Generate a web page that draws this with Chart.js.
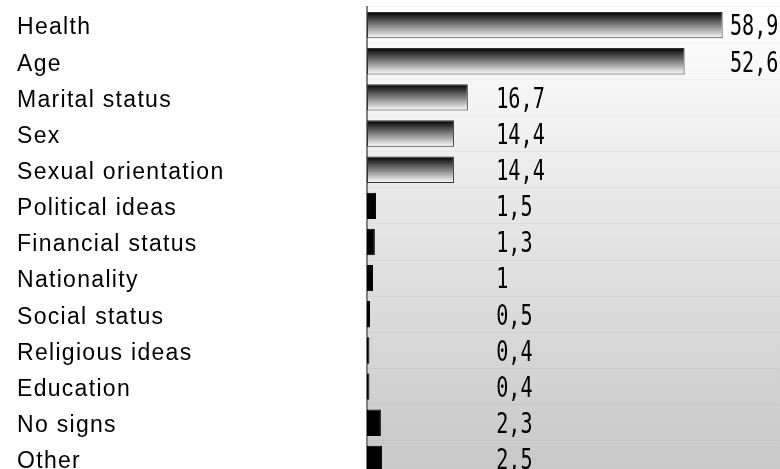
<!DOCTYPE html>
<html>
<head>
<meta charset="utf-8">
<script src="https://cdn.jsdelivr.net/npm/chart.js@4"></script>
<style>
  html, body { margin: 0; padding: 0; background: #fff; overflow: hidden; }
  canvas { display: block; }
</style>
</head>
<body>
<canvas id="signsChart" width="780" height="477"></canvas>
<script>
const categories = [
    "Health",
    "Age",
    "Marital status",
    "Sex",
    "Sexual orientation",
    "Political ideas",
    "Financial status",
    "Nationality",
    "Social status",
    "Religious ideas",
    "Education",
    "No signs",
    "Other"
];

const shares = [58.9, 52.6, 16.7, 14.4, 14.4, 1.5, 1.3, 1, 0.5, 0.4, 0.4, 2.3, 2.5];

// value labels sit in one of two columns (axis units)
const nearColumn = 21.4;
const farColumn = 60.1;

const BAR_PCT = 0.73;

const fmt = v => String(v).replace(".", ",");

// grey wash behind the bars, plus a little tracking for the category names
const plotBackground = {
    id: "plotBackground",
    beforeDraw(chart) {
        const { ctx, chartArea } = chart;
        const g = ctx.createLinearGradient(0, chartArea.top, 0, 469);
        g.addColorStop(0, "#ffffff");
        g.addColorStop(1, "#c8c8c8");
        ctx.save();
        ctx.fillStyle = g;
        ctx.fillRect(chartArea.left, chartArea.top, chartArea.right - chartArea.left, chartArea.bottom - chartArea.top);
        ctx.restore();
        ctx.letterSpacing = "1.3px";
    }
};

// narrow numbers next to the bars
const valueLabels = {
    id: "valueLabels",
    afterDatasetsDraw(chart) {
        const { ctx } = chart;
        const xs = chart.scales.x;
        const meta = chart.getDatasetMeta(0);
        ctx.save();
        ctx.letterSpacing = "0px";
        ctx.fillStyle = "#000";
        ctx.font = "28px 'DejaVu Sans Mono'";
        ctx.textBaseline = "middle";
        ctx.textAlign = "left";
        meta.data.forEach((bar, i) => {
            const v = shares[i];
            const x = xs.getPixelForValue(v > 40 ? farColumn : nearColumn);
            ctx.save();
            ctx.translate(x, bar.y + 3);
            ctx.scale(0.72, 1);
            ctx.fillText(fmt(v), 0, 0);
            ctx.restore();
        });
        ctx.restore();
    }
};

// wide bars fade from black (top) to white (bottom); thin ones stay solid
function barFill(context) {
    const chart = context.chart;
    const ys = chart.scales.y;
    const i = context.dataIndex;
    if (!chart.chartArea || !ys || shares[i] < 10) return "#000";
    const yc = ys.getPixelForValue(i);
    const half = (ys.height / categories.length) * BAR_PCT / 2;
    const g = chart.ctx.createLinearGradient(0, yc - half, 0, yc + half);
    g.addColorStop(0, "#000000");
    g.addColorStop(1, "#ffffff");
    return g;
}

new Chart(
    document.getElementById("signsChart"),
    {
        type: "bar",
        data: {
            labels: categories,
            datasets: [
                {
                    data: shares,
                    backgroundColor: barFill,
                    borderColor: ctx => shares[ctx.dataIndex] < 10 ? "#000" : "#333",
                    borderWidth: 1,
                    borderSkipped: false,
                    categoryPercentage: 1,
                    barPercentage: BAR_PCT
                }
            ]
        },
        options: {
            indexAxis: "y",
            responsive: false,
            animation: false,
            layout: {
                padding: { left: 17, top: 7, right: 0, bottom: 0 }
            },
            plugins: {
                legend: { display: false },
                tooltip: { enabled: false }
            },
            scales: {
                x: {
                    display: false,
                    min: 0,
                    max: 68.4
                },
                y: {
                    afterFit(scale) {
                        scale.width = 350;
                        scale.paddingTop = 0;
                        scale.paddingBottom = 0;
                    },
                    border: { display: true, color: "#808080", width: 2 },
                    grid: {
                        offset: true,
                        drawTicks: false,
                        color: "rgba(0,0,0,0.03)"
                    },
                    ticks: {
                        crossAlign: "far",
                        padding: 0,
                        labelOffset: 3,
                        color: "#000",
                        font: { family: "'Liberation Sans'", size: 23 }
                    }
                }
            }
        },
        plugins: [plotBackground, valueLabels]
    }
);
</script>
</body>
</html>
